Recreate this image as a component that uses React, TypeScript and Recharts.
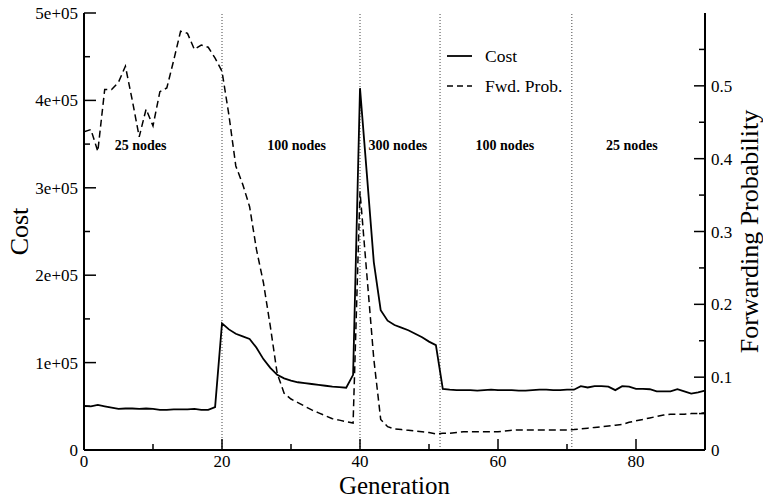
import { LineChart, Line, XAxis, YAxis, ReferenceLine, ReferenceDot, Legend } from 'recharts';

const FONT = '"Liberation Serif", "Times New Roman", serif';

// generation index 0..90
const generations = Array.from({ length: 91 }, (_, i) => i);

const cost = [
  50500, 50000, 51500, 50000, 48500, 47000, 47500, 47500, 47000, 47500,
  47000, 46000, 46000, 46500, 46500, 46500, 47000, 46000, 46000, 49000,
  145000, 138000, 133000, 130000, 127000, 117000, 104000, 94000, 86000, 82000,
  79500, 77500, 76500, 75500, 74500, 73500, 72500, 72000, 71300, 86000,
  414000, 315000, 215000, 160000, 148000, 143000, 140000, 137000, 133000, 129000,
  124000, 120000, 70000, 69000, 68500, 68500, 68500, 68000, 68500, 69000,
  68500, 68500, 68500, 68000, 68000, 68500, 69000, 69000, 68500, 68500,
  69000, 69000, 73000, 71500, 73000, 73000, 72500, 68500, 73000, 72500,
  70000, 70000, 69500, 67000, 67000, 67000, 69500, 67000, 64500, 66000,
  68000,
];

const fwdProb = [
  0.437, 0.44, 0.41, 0.495, 0.495, 0.505, 0.527, 0.48, 0.43, 0.468,
  0.445, 0.492, 0.497, 0.535, 0.575, 0.572, 0.55, 0.556, 0.553, 0.538,
  0.52, 0.46, 0.39, 0.365, 0.334, 0.275, 0.23, 0.17, 0.105, 0.078,
  0.07, 0.065, 0.06, 0.055, 0.051, 0.047, 0.043, 0.041, 0.039, 0.037,
  0.355, 0.24, 0.125, 0.042, 0.032, 0.029, 0.028, 0.027, 0.026, 0.025,
  0.024, 0.022, 0.023, 0.023, 0.024, 0.025, 0.025, 0.025, 0.025, 0.025,
  0.025, 0.026, 0.027, 0.0275, 0.0275, 0.0275, 0.0275, 0.0275, 0.0275, 0.0275,
  0.0275, 0.028, 0.029, 0.03, 0.031, 0.032, 0.033, 0.034, 0.035, 0.038,
  0.04, 0.042, 0.044, 0.046, 0.048, 0.049, 0.049, 0.049, 0.05, 0.05,
  0.051,
];

const xMajor = [0, 20, 40, 60, 80];
const xTicks = [0, 10, 20, 30, 40, 50, 60, 70, 80];
const costMajor = [0, 100000, 200000, 300000, 400000, 500000];
const costTicks = [0, 50000, 100000, 150000, 200000, 250000, 300000, 350000, 400000, 450000, 500000];
const probMajor = [0, 0.1, 0.2, 0.3, 0.4, 0.5];
const probTicks = [0, 0.05, 0.1, 0.15, 0.2, 0.25, 0.3, 0.35, 0.4, 0.45, 0.5, 0.55];
const probLabels = ['0', '0.1', '0.2', '0.3', '0.4', '0.5'];

// phase boundaries and the phase names
const phaseBounds = [20, 40, 51.6, 70.7];
const phaseNames = ['25 nodes', '100 nodes', '300 nodes', '100 nodes', '25 nodes'];
const phaseLabelX = [8.2, 30.8, 45.5, 61, 79.4];
const phaseLabelY = 349000;

const rows = generations.map((g, i) => ({ gen: g, cost: cost[i], prob: fwdProb[i] }));

const costLabel = (v: number) => (v === 0 ? '0' : `${v / 100000}e+05`);

function BottomTick(props: any) {
  const { x, y, payload } = props;
  const major = xMajor.includes(payload.value);
  return (
    <g>
      <line x1={x} y1={y} x2={x} y2={y - (major ? 11 : 6)} stroke="#000" strokeWidth={1.5} />
      {major && (
        <text x={x} y={y + 17} textAnchor="middle" fontSize={17} fontFamily={FONT} fill="#000">
          {payload.value}
        </text>
      )}
    </g>
  );
}

function TopTick(props: any) {
  const { x, y, payload } = props;
  const major = xMajor.includes(payload.value);
  return <line x1={x} y1={y} x2={x} y2={y + (major ? 11 : 6)} stroke="#000" strokeWidth={1.5} />;
}

function LeftTick(props: any) {
  const { x, y, payload } = props;
  const major = costMajor.includes(payload.value);
  return (
    <g>
      <line x1={x} y1={y} x2={x + (major ? 12 : 6)} y2={y} stroke="#000" strokeWidth={1.5} />
      {major && (
        <text x={x - 6} y={y + 6} textAnchor="end" fontSize={17} fontFamily={FONT} fill="#000">
          {costLabel(payload.value)}
        </text>
      )}
    </g>
  );
}

function RightTick(props: any) {
  const { x, y, payload } = props;
  const idx = probMajor.findIndex((m) => Math.abs(m - payload.value) < 1e-9);
  const major = idx >= 0;
  return (
    <g>
      <line x1={x} y1={y} x2={x - (major ? 11 : 6)} y2={y} stroke="#000" strokeWidth={1.5} />
      {major && (
        <text x={x + 6} y={y + 6} textAnchor="start" fontSize={17} fontFamily={FONT} fill="#000">
          {probLabels[idx]}
        </text>
      )}
    </g>
  );
}

function SideTitle({ viewBox, text, dx }: any) {
  const cy = viewBox.y + viewBox.height / 2;
  const cx = viewBox.x + dx;
  return (
    <text transform={`translate(${cx},${cy}) rotate(-90)`} textAnchor="middle" fontSize={26} fontFamily={FONT} fill="#000">
      {text}
    </text>
  );
}

function BottomTitle({ viewBox }: any) {
  return (
    <text x={viewBox.x + viewBox.width / 2} y={viewBox.y + 44} textAnchor="middle" fontSize={25} fontFamily={FONT} fill="#000">
      Generation
    </text>
  );
}

function LegendBox() {
  return (
    <svg width={150} height={60} style={{ fontFamily: FONT }}>
      <line x1={7} y1={16} x2={32} y2={16} stroke="#000" strokeWidth={1.8} />
      <text x={45} y={22} fontSize={17.5} fill="#000">Cost</text>
      <line x1={7} y1={46} x2={32} y2={46} stroke="#000" strokeWidth={1.5} strokeDasharray="6 4" />
      <text x={45} y={52} fontSize={17.5} fill="#000">Fwd. Prob.</text>
    </svg>
  );
}

export default function App() {
  return (
    <div style={{ position: 'absolute', left: 0, top: 0, background: '#fff' }}>
      <LineChart width={763} height={498} data={rows} margin={{ top: 13, right: 0, bottom: 0, left: 0 }} style={{ fontFamily: FONT }}>
        <XAxis
          xAxisId="b"
          dataKey="gen"
          type="number"
          domain={[0, 90]}
          ticks={xTicks}
          interval={0}
          height={48}
          tickSize={0}
          tickMargin={0}
          tickLine={false}
          tick={<BottomTick />}
          axisLine={{ stroke: '#000', strokeWidth: 2 }}
          label={<BottomTitle />}
          allowDataOverflow
        />
        <XAxis
          xAxisId="t"
          orientation="top"
          dataKey="gen"
          type="number"
          domain={[0, 90]}
          ticks={xTicks}
          interval={0}
          height={0}
          tickSize={0}
          tickMargin={0}
          tickLine={false}
          tick={<TopTick />}
          axisLine={{ stroke: '#000', strokeWidth: 2 }}
          allowDataOverflow
        />
        <YAxis
          yAxisId="left"
          type="number"
          domain={[0, 500000]}
          ticks={costTicks}
          interval={0}
          width={84}
          tickSize={0}
          tickMargin={0}
          tickLine={false}
          tick={<LeftTick />}
          axisLine={{ stroke: '#000', strokeWidth: 2 }}
          label={<SideTitle text="Cost" dx={28} />}
          allowDataOverflow
        />
        <YAxis
          yAxisId="right"
          orientation="right"
          type="number"
          domain={[0, 0.6]}
          ticks={probTicks}
          interval={0}
          width={58}
          tickSize={0}
          tickMargin={0}
          tickLine={false}
          tick={<RightTick />}
          axisLine={{ stroke: '#000', strokeWidth: 2 }}
          label={<SideTitle text="Forwarding Probability" dx={53} />}
          allowDataOverflow
        />
        {phaseBounds.map((b) => (
          <ReferenceLine key={b} xAxisId="b" yAxisId="left" x={b} stroke="#444" strokeWidth={1} strokeDasharray="1 2" />
        ))}
        {phaseNames.map((name, i) => (
          <ReferenceDot
            key={i}
            xAxisId="b"
            yAxisId="left"
            x={phaseLabelX[i]}
            y={phaseLabelY}
            r={0}
            fill="none"
            stroke="none"
            label={{ value: name, position: 'center', fontSize: 14, fontWeight: 'bold', fill: '#000', fontFamily: FONT }}
          />
        ))}
        <Line
          xAxisId="b"
          yAxisId="left"
          dataKey="cost"
          name="Cost"
          type="linear"
          stroke="#000"
          strokeWidth={1.8}
          dot={false}
          isAnimationActive={false}
        />
        <Line
          xAxisId="b"
          yAxisId="right"
          dataKey="prob"
          name="Fwd. Prob."
          type="linear"
          stroke="#000"
          strokeWidth={1.5}
          strokeDasharray="7 4"
          dot={false}
          isAnimationActive={false}
        />
        <Legend
          layout="vertical"
          align="center"
          verticalAlign="middle"
          content={<LegendBox />}
          wrapperStyle={{ position: 'absolute', left: 440, top: 40, width: 150, height: 60 }}
        />
      </LineChart>
    </div>
  );
}
